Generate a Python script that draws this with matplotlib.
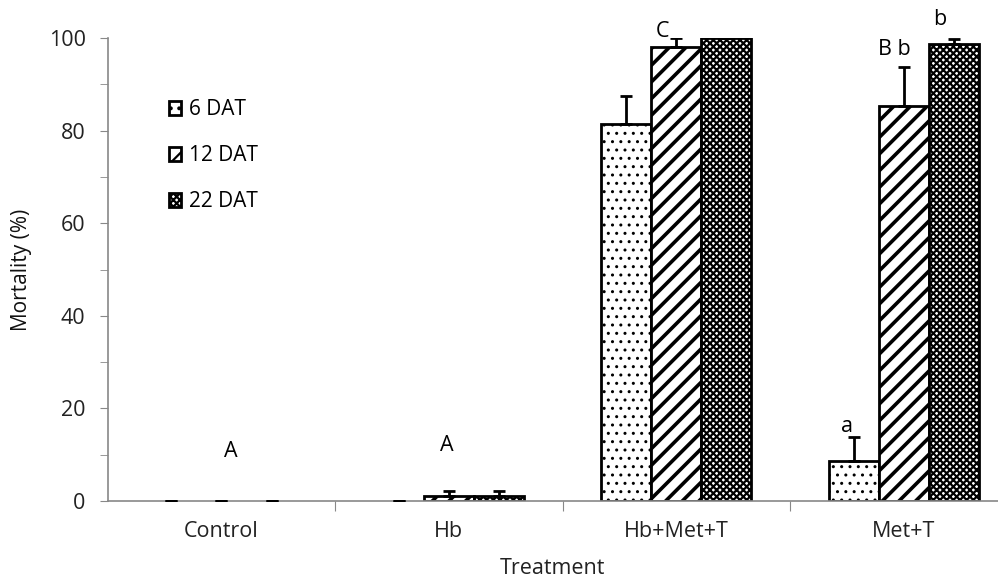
import matplotlib.pyplot as plt
from matplotlib.patches import Patch
import numpy as np

treatments = ['Control', 'Hb', 'Hb+Met+T', 'Met+T']
series_names = ['6 DAT', '12 DAT', '22 DAT']
# mortality (%) per treatment, one list per sampling date
dat6 = [0, 0, 81.5, 8.7]
dat12 = [0, 1.0, 98.0, 85.3]
dat22 = [0, 1.0, 100.0, 98.7]
err6 = [0, 0, 6.0, 5.2]
err12 = [0, 1.2, 2.0, 8.5]
err22 = [0, 1.2, 0, 1.0]

# letters from the mean comparison
letters = ['A', 'A', 'C', 'a', 'B b', 'b']
letter_x = [0.04, 0.99, 1.94, 2.75, 2.96, 3.16]
letter_y = [10.6, 12, 101.5, 16, 97.5, 104]

plt.rcParams['font.family'] = ['Open Sans', 'DejaVu Sans']

fig = plt.figure(figsize=(9.98, 5.84), dpi=100)
ax = fig.add_axes([0.108, 0.142, 0.892, 0.793])

x = np.arange(len(treatments))
w = 0.22
hatches = ['..', '//', 'xxxxx']
hatch_lw = [1.0, 2.6, 1.6]
values = [dat6, dat12, dat22]
errs = [err6, err12, err22]
handles = []

for i in range(3):
    plt.rcParams['hatch.linewidth'] = hatch_lw[i]
    v = np.array(values[i])
    pos = x + (i - 1) * w
    lw = np.where(v > 0, 2.0, 0.0)
    ax.bar(pos, v, width=w, color='white', edgecolor='black', hatch=hatches[i],
           linewidth=lw, zorder=2)
    ax.errorbar(pos, v, yerr=[np.zeros(len(v)), errs[i]], fmt='none', ecolor='black',
                elinewidth=2, capsize=4, capthick=2, zorder=3)
    handles.append(Patch(facecolor='white', edgecolor='black', hatch=hatches[i],
                         linewidth=2, label=series_names[i]))

for t, lx, ly in zip(letters, letter_x, letter_y):
    ax.text(lx, ly, t, ha='center', va='center', fontsize=15.5)

ax.set_xlim(-0.5, 3.415)
ax.set_ylim(0, 100)
ax.set_yticks(range(0, 101, 20))
ax.set_yticks(range(10, 100, 20), minor=True)
ax.set_xticks([0.5, 1.5, 2.5])
ax.set_xticklabels([])
ax.set_xticks(x, minor=True)
ax.set_xticklabels(treatments, minor=True)
ax.tick_params(axis='x', which='minor', length=0, pad=14, labelsize=15.5, labelcolor='#222222')
ax.tick_params(axis='x', which='major', length=7, color='#888888')
ax.tick_params(axis='y', which='both', length=6, color='#888888', labelsize=15.5,
               pad=10, labelcolor='#222222')
for s in ['top', 'right']:
    ax.spines[s].set_visible(False)
for s in ['left', 'bottom']:
    ax.spines[s].set_color('#888888')
    ax.spines[s].set_linewidth(1.2)

ax.set_xlabel('Treatment', fontsize=15.5, labelpad=12, color='#222222')
ax.set_ylabel('Mortality (%)', fontsize=15, labelpad=12, color='#111111')

ax.legend(handles=handles, loc='upper left', bbox_to_anchor=(0.057, 0.89), frameon=False,
          fontsize=15, handlelength=0.6, handleheight=0.6, handletextpad=0.35,
          labelspacing=1.2, borderpad=0)

fig.savefig('out.png', dpi=100)
